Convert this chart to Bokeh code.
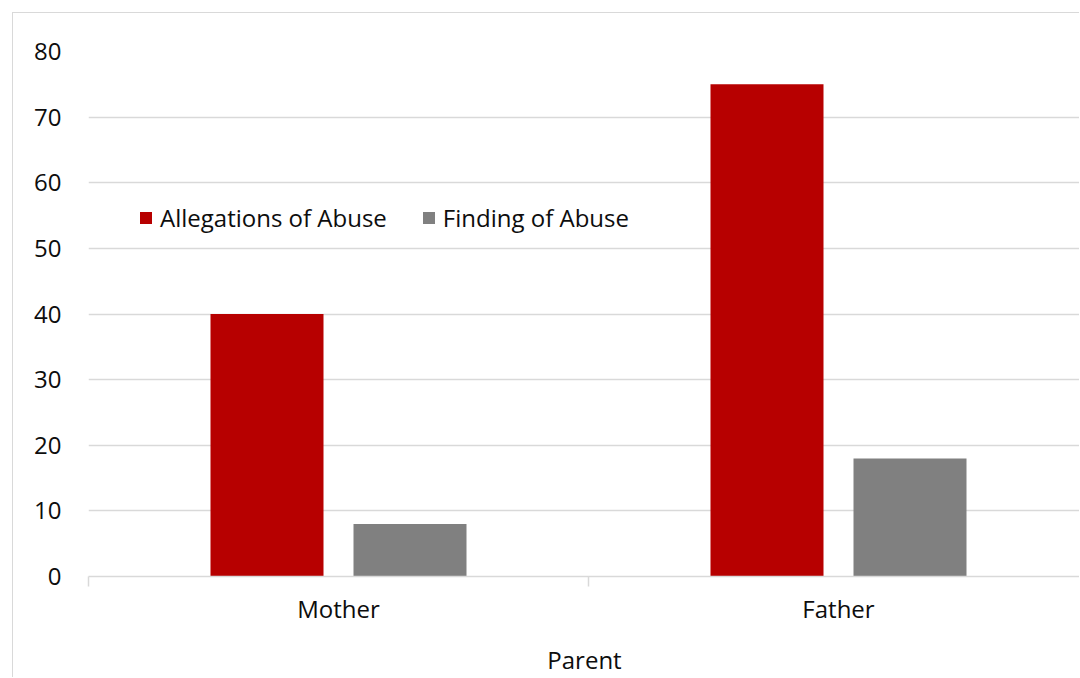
from bokeh.plotting import figure
from bokeh.models import Range1d, FixedTicker, ColumnDataSource, Legend, LegendItem
from bokeh.embed import file_html
from bokeh.resources import INLINE

categories = ["Mother", "Father"]
allegations = [40, 75]
findings = [8, 18]
y_ticks = [0, 10, 20, 30, 40, 50, 60, 70, 80]
x_title = "Parent"

FONT = "Open Sans"
FS = "24px"
RED = "#B70000"
GRAY = "#808080"
GRID = "#D9D9D9"
TXT = "#0D0D0D"

centers = [i + 0.5 for i in range(len(categories))]
src = ColumnDataSource(dict(
    x_a=[c - 0.143 for c in centers],
    x_f=[c + 0.143 for c in centers],
    a=allegations,
    f=findings,
))

p = figure(width=1067, height=665, output_backend="svg", toolbar_location=None,
           x_range=Range1d(0, 1.984), y_range=Range1d(0, 80),
           min_border_left=75, min_border_right=0, min_border_top=38, min_border_bottom=102,
           margin=(12, 0, 0, 12))
p.styles = {"border-left": "1px solid #D9D9D9", "border-top": "1px solid #D9D9D9"}
p.outline_line_color = None
p.background_fill_color = "white"
p.border_fill_color = "white"

r1 = p.vbar(x="x_a", top="a", width=0.226, source=src, fill_color=RED, line_color=None)
r2 = p.vbar(x="x_f", top="f", width=0.226, source=src, fill_color=GRAY, line_color=None)

# x axis
xa = p.xaxis[0]
xa.ticker = FixedTicker(ticks=centers, minor_ticks=list(range(len(categories) + 1)))
xa.major_label_overrides = {c: n for c, n in zip(centers, categories)}
xa.major_tick_out = 0
xa.major_tick_in = 0
xa.minor_tick_out = 10
xa.minor_tick_in = 0
xa.minor_tick_line_color = GRID
xa.minor_tick_line_width = 1.5
xa.axis_line_color = GRID
xa.axis_line_width = 1.5
xa.major_label_standoff = 5
xa.major_label_text_font = FONT
xa.major_label_text_font_size = FS
xa.major_label_text_color = TXT
xa.axis_label = x_title
xa.axis_label_text_font = FONT
xa.axis_label_text_font_size = FS
xa.axis_label_text_font_style = "normal"
xa.axis_label_text_color = TXT
xa.axis_label_standoff = 15

ya = p.yaxis[0]
ya.ticker = FixedTicker(ticks=y_ticks)
ya.axis_line_color = None
ya.major_tick_line_color = None
ya.minor_tick_line_color = None
ya.major_tick_out = 0
ya.major_label_standoff = 27
ya.major_label_text_font = FONT
ya.major_label_text_font_size = FS
ya.major_label_text_color = TXT

p.xgrid.grid_line_color = None
p.ygrid.ticker = FixedTicker(ticks=y_ticks)
p.ygrid.grid_line_color = GRID
p.ygrid.grid_line_width = 1.5

legend = Legend(items=[LegendItem(label="Allegations of Abuse", renderers=[r1]),
                       LegendItem(label="Finding of Abuse", renderers=[r2])],
                location=(50, 342), orientation="horizontal",
                padding=0, margin=0, spacing=34, label_standoff=7,
                glyph_width=15, glyph_height=15, label_height=30,
                border_line_color=None, background_fill_alpha=0,
                label_text_font=FONT, label_text_font_size=FS,
                label_text_color=TXT)
p.add_layout(legend, "center")

html = file_html(p, INLINE)
html = html.replace("<body>", '<body style="margin:0;overflow:hidden">', 1)
open("out.html", "w").write(html)
